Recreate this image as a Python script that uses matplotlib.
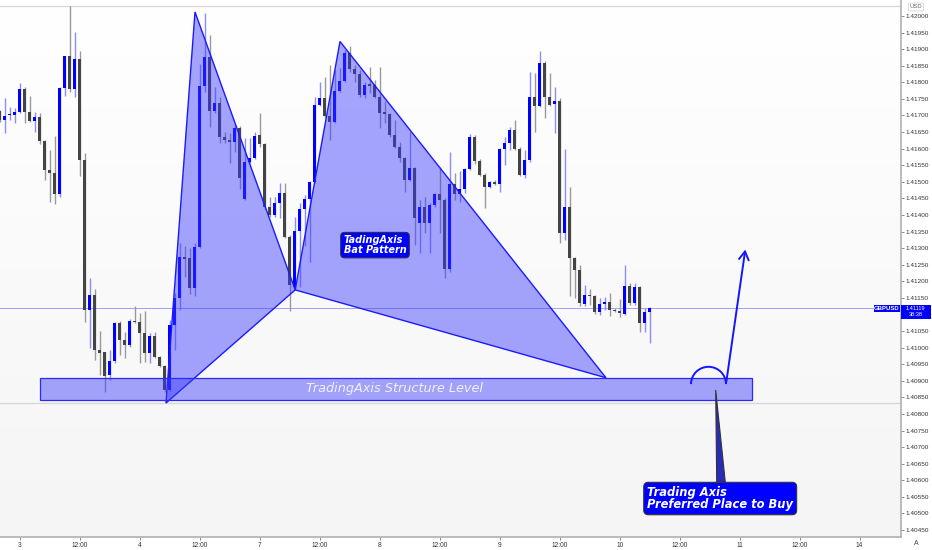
import matplotlib
matplotlib.use('Agg')
import matplotlib.pyplot as plt
import numpy as np
from matplotlib.patches import Rectangle, Polygon, Arc
from matplotlib.colors import LinearSegmentedColormap

# ---------------- data (GBPUSD hourly candles) ----------------
first_index = -1
opens = [1.41712, 1.41685, 1.41700, 1.41702, 1.41710, 1.41780, 1.41709, 1.41684, 1.41695, 1.41624,
         1.41536, 1.41526, 1.41463, 1.41784, 1.41880, 1.41779, 1.41870, 1.41566, 1.41114, 1.41159,
         1.40993, 1.40986, 1.40916, 1.40960, 1.41073, 1.41023, 1.41008, 1.41081, 1.41078, 1.41043,
         1.40985, 1.41035, 1.40971, 1.40945, 1.40872, 1.41068, 1.41151, 1.41272, 1.41269, 1.41179,
         1.41302, 1.41789, 1.41875, 1.41712, 1.41737, 1.41636, 1.41626, 1.41619, 1.41663, 1.41447,
         1.41559, 1.41573, 1.41640, 1.41613, 1.41425, 1.41400, 1.41435, 1.41465, 1.41332, 1.41184,
         1.41352, 1.41417, 1.41448, 1.41498, 1.41732, 1.41752, 1.41697, 1.41681, 1.41775, 1.41805,
         1.41888, 1.41839, 1.41825, 1.41762, 1.41794, 1.41792, 1.41757, 1.41709, 1.41705, 1.41641,
         1.41604, 1.41571, 1.41504, 1.41543, 1.41377, 1.41425, 1.41377, 1.41430, 1.41463, 1.41445,
         1.41236, 1.41494, 1.41463, 1.41478, 1.41539, 1.41636, 1.41564, 1.41519, 1.41483, 1.41498,
         1.41494, 1.41598, 1.41618, 1.41656, 1.41599, 1.41521, 1.41566, 1.41757, 1.41727, 1.41857,
         1.41755, 1.41734, 1.41742, 1.41345, 1.41425, 1.41269, 1.41234, 1.41132, 1.41159, 1.41156,
         1.41107, 1.41132, 1.41139, 1.41114, 1.41110, 1.41101, 1.41186, 1.41134, 1.41182, 1.41075,
         1.41108]
highs = [1.41717, 1.41752, 1.41725, 1.41722, 1.41799, 1.41785, 1.41760, 1.41709, 1.41707, 1.41626,
         1.41596, 1.41638, 1.41787, 1.41880, 1.42030, 1.41951, 1.41893, 1.41588, 1.41209, 1.41176,
         1.41050, 1.40988, 1.40993, 1.41078, 1.41081, 1.41048, 1.41085, 1.41126, 1.41104, 1.41109,
         1.41043, 1.41048, 1.40975, 1.40948, 1.41083, 1.41164, 1.41315, 1.41305, 1.41300, 1.41315,
         1.41854, 1.42008, 1.41941, 1.41787, 1.41757, 1.41651, 1.41646, 1.41671, 1.41668, 1.41633,
         1.41631, 1.41651, 1.41707, 1.41616, 1.41455, 1.41455, 1.41496, 1.41496, 1.41340, 1.41395,
         1.41435, 1.41460, 1.41501, 1.41757, 1.41802, 1.41817, 1.41852, 1.41837, 1.41842, 1.41898,
         1.41908, 1.41852, 1.41837, 1.41802, 1.41847, 1.41807, 1.41847, 1.41742, 1.41707, 1.41687,
         1.41621, 1.41576, 1.41651, 1.41546, 1.41445, 1.41455, 1.41435, 1.41467, 1.41546, 1.41450,
         1.41591, 1.41526, 1.41531, 1.41541, 1.41644, 1.41641, 1.41568, 1.41526, 1.41501, 1.41506,
         1.41601, 1.41636, 1.41666, 1.41687, 1.41606, 1.41596, 1.41832, 1.41829, 1.41893, 1.41865,
         1.41829, 1.41785, 1.41752, 1.41598, 1.41485, 1.41274, 1.41249, 1.41189, 1.41176, 1.41159,
         1.41149, 1.41154, 1.41164, 1.41119, 1.41146, 1.41249, 1.41194, 1.41196, 1.41186, 1.41119,
         1.41122]
lows = [1.41681, 1.41648, 1.41687, 1.41678, 1.41707, 1.41678, 1.41680, 1.41651, 1.41614, 1.41506,
        1.41440, 1.41433, 1.41455, 1.41760, 1.41772, 1.41757, 1.41516, 1.41078, 1.40998, 1.40963,
        1.40918, 1.40867, 1.40902, 1.40953, 1.40978, 1.40968, 1.41003, 1.41073, 1.40953, 1.40958,
        1.40953, 1.40968, 1.40943, 1.40867, 1.40870, 1.40993, 1.41114, 1.41214, 1.41162, 1.41156,
        1.41300, 1.41772, 1.41664, 1.41707, 1.41616, 1.41616, 1.41556, 1.41591, 1.41477, 1.41445,
        1.41556, 1.41568, 1.41606, 1.41417, 1.41393, 1.41395, 1.41390, 1.41330, 1.41109, 1.41179,
        1.41184, 1.41305, 1.41259, 1.41496, 1.41727, 1.41692, 1.41626, 1.41678, 1.41772, 1.41802,
        1.41832, 1.41802, 1.41757, 1.41752, 1.41767, 1.41752, 1.41661, 1.41676, 1.41636, 1.41601,
        1.41561, 1.41470, 1.41501, 1.41310, 1.41284, 1.41345, 1.41284, 1.41425, 1.41345, 1.41209,
        1.41229, 1.41445, 1.41440, 1.41465, 1.41534, 1.41554, 1.41516, 1.41420, 1.41480, 1.41491,
        1.41470, 1.41551, 1.41596, 1.41596, 1.41518, 1.41511, 1.41561, 1.41651, 1.41725, 1.41692,
        1.41729, 1.41648, 1.41315, 1.41323, 1.41156, 1.41149, 1.41124, 1.41124, 1.41129, 1.41101,
        1.41098, 1.41114, 1.41095, 1.41106, 1.41093, 1.41098, 1.41129, 1.41129, 1.41048, 1.41048,
        1.41013]
closes = [1.41685, 1.41699, 1.41702, 1.41710, 1.41780, 1.41709, 1.41684, 1.41695, 1.41624, 1.41534,
          1.41526, 1.41463, 1.41784, 1.41880, 1.41779, 1.41870, 1.41566, 1.41114, 1.41159, 1.40993,
          1.40985, 1.40915, 1.40960, 1.41073, 1.41023, 1.41008, 1.41081, 1.41078, 1.41043, 1.40985,
          1.41035, 1.40971, 1.40945, 1.40872, 1.41068, 1.41151, 1.41272, 1.41268, 1.41179, 1.41302,
          1.41789, 1.41875, 1.41712, 1.41737, 1.41636, 1.41626, 1.41619, 1.41663, 1.41511, 1.41559,
          1.41573, 1.41638, 1.41613, 1.41425, 1.41400, 1.41435, 1.41465, 1.41332, 1.41189, 1.41352,
          1.41417, 1.41448, 1.41498, 1.41732, 1.41752, 1.41697, 1.41681, 1.41775, 1.41805, 1.41888,
          1.41839, 1.41825, 1.41762, 1.41792, 1.41790, 1.41757, 1.41707, 1.41705, 1.41641, 1.41604,
          1.41571, 1.41504, 1.41543, 1.41390, 1.41425, 1.41377, 1.41430, 1.41463, 1.41445, 1.41236,
          1.41494, 1.41463, 1.41478, 1.41539, 1.41636, 1.41564, 1.41519, 1.41483, 1.41498, 1.41494,
          1.41598, 1.41618, 1.41656, 1.41599, 1.41521, 1.41566, 1.41757, 1.41727, 1.41857, 1.41755,
          1.41732, 1.41742, 1.41345, 1.41425, 1.41269, 1.41234, 1.41134, 1.41159, 1.41156, 1.41107,
          1.41132, 1.41139, 1.41114, 1.41110, 1.41104, 1.41186, 1.41134, 1.41182, 1.41075, 1.41108,
          1.41119]

time_tick_pos = [3, 15, 27, 39, 51, 63, 75, 87, 99, 111, 123, 135, 147, 159, 171]
time_tick_labels = ['3', '12:00', '4', '12:00', '7', '12:00', '8', '12:00', '9', '12:00',
                    '10', '12:00', '11', '12:00', '14']
# 1.41100 is hidden behind the last-price tag in the reference
price_ticks = [1.40450, 1.40500, 1.40550, 1.40600, 1.40650, 1.40700, 1.40750, 1.40800,
               1.40850, 1.40900, 1.40950, 1.41000, 1.41050, 1.41150, 1.41200,
               1.41250, 1.41300, 1.41350, 1.41400, 1.41450, 1.41500, 1.41550, 1.41600,
               1.41650, 1.41700, 1.41750, 1.41800, 1.41850, 1.41900, 1.41950, 1.42000]
last_price = 1.41119
countdown = '38:38'
symbol = 'GBPUSD'

# Bat pattern points X, A, B, C, D (bar index, price)
pattern_x = [32.26, 38.06, 58.1, 67.06, 120.26]
pattern_y = [1.40833, 1.42012, 1.41174, 1.41923, 1.40909]
# Structure level zone
zone_x = [6.96, 149.36]
zone_y = [1.40842, 1.40909]
level_lines = [1.42030, 1.40833]

# ---------------- figure ----------------
W, H = 932, 550
fig = plt.figure(figsize=(W / 100, H / 100), dpi=100, facecolor='white')
ax = fig.add_axes([0, 13 / H, 901 / W, 537 / H])
xlim = (-0.94, 179.26)
ylim = (1.40429, 1.42048)
ax.set_xlim(*xlim)
ax.set_ylim(*ylim)

grad = LinearSegmentedColormap.from_list('bg', ['#ffffff', '#f5f5f5'])
ax.imshow(np.linspace(0, 1, 200).reshape(-1, 1), extent=[xlim[0], xlim[1], ylim[0], ylim[1]],
          aspect='auto', cmap=grad, zorder=0, origin='upper')

for lv in level_lines:
    ax.axhline(lv, color='#d6d6d6', lw=0.9, zorder=1)
ax.axhline(last_price, color='#8a8aff', lw=0.7, alpha=0.8, zorder=1)

# candles
o = np.array(opens); h = np.array(highs); l = np.array(lows); c = np.array(closes)
xs = np.arange(len(o)) + first_index
up = c >= o
ax.vlines(xs[up], l[up], h[up], color='#8c8cff', lw=1.0, zorder=2)
ax.vlines(xs[~up], l[~up], h[~up], color='#9a9a9a', lw=1.0, zorder=2)
body_lo = np.minimum(o, c)
body_h = np.maximum(np.abs(c - o), 0.00003)
ax.bar(xs[up], body_h[up], bottom=body_lo[up], width=0.62, color='#0000ff', lw=0, zorder=3)
ax.bar(xs[~up], body_h[~up], bottom=body_lo[~up], width=0.62, color='#444444', lw=0, zorder=3)

# pattern triangles
fillc = (0.22, 0.22, 1.0, 0.45)
px, py = pattern_x, pattern_y
tri1 = Polygon([(px[0], py[0]), (px[1], py[1]), (px[2], py[2])], closed=True,
               facecolor=fillc, edgecolor='#1a1aff', lw=1.0, zorder=4)
tri2 = Polygon([(px[2], py[2]), (px[3], py[3]), (px[4], py[4])], closed=True,
               facecolor=fillc, edgecolor='#1a1aff', lw=1.0, zorder=4)
ax.add_patch(tri1)
ax.add_patch(tri2)

# structure zone
ax.add_patch(Rectangle((zone_x[0], zone_y[0]), zone_x[1] - zone_x[0], zone_y[1] - zone_y[0],
                       facecolor=fillc, edgecolor='#2a2aff', lw=0.9, zorder=4))
ax.text((zone_x[0] + zone_x[1]) / 2 - 0.3, (zone_y[0] + zone_y[1]) / 2, 'TradingAxis Structure Level',
        color='#f0f0ff', fontsize=9.3, style='italic', ha='center', va='center', zorder=6)

# bat pattern label
ax.text(74.06, 1.41309, 'TadingAxis\nBat Pattern', color='white', fontsize=7, fontweight='bold',
        style='italic', ha='center', va='center', multialignment='left', linespacing=0.95, zorder=7,
        bbox=dict(boxstyle='round,pad=0.3,rounding_size=0.4', fc='#0000ff', ec='#2b2b55', lw=0.8))

# arc + arrow
arc = Arc((140.76, 1.40890), 7.0, 0.001043, theta1=0, theta2=180, color='#1515ff', lw=1.4, zorder=6)
ax.add_patch(arc)
ax.annotate('', xy=(148.2, 1.41304), xytext=(144.26, 1.40890),
            arrowprops=dict(arrowstyle='->,head_length=0.6,head_width=0.35', color='#1515ff', lw=1.4),
            zorder=6)

# callout pointer and box
ax.add_patch(Polygon([(142.2, 1.40872), (142.4, 1.40594), (144.12, 1.40594)], closed=True,
                     facecolor='#2a2ab8', edgecolor='#333333', lw=0.8, zorder=6))
ax.text(128.5, 1.40545, 'Trading Axis\nPreferred Place to Buy', color='white', fontsize=8.3,
        fontweight='bold', style='italic', ha='left', va='center', linespacing=0.95, zorder=7,
        bbox=dict(boxstyle='round,pad=0.3,rounding_size=0.4', fc='#0000ff', ec='#333333', lw=0.8))

# axes styling
for s in ['top', 'left']:
    ax.spines[s].set_visible(False)
ax.spines['right'].set_color('#b0b0b0')
ax.spines['right'].set_linewidth(1.2)
ax.spines['bottom'].set_color('#b0b0b0')
ax.spines['bottom'].set_linewidth(1.2)

ax.yaxis.tick_right()
ax.set_yticks(price_ticks)
ax.set_yticklabels([f'{v:.5f}' for v in price_ticks], fontfamily='Liberation Sans', fontsize=4.6,
                   color='#333333')
ax.tick_params(axis='y', direction='out', length=2, width=0.6, pad=1.2, color='#777777')
ax.set_xticks(time_tick_pos)
ax.set_xticklabels(time_tick_labels, fontfamily='Liberation Sans', fontsize=4.8, color='#333333')
ax.tick_params(axis='x', direction='out', length=2, width=0.6, pad=1.5, color='#777777')


def fx(p):
    return p / W


def fy(p):
    return 1 - p / H


# last price tag
fig.add_artist(Rectangle((fx(900.7), fy(319)), fx(931) - fx(900.7), fy(304.5) - fy(319),
                         transform=fig.transFigure, facecolor='#0000ff', edgecolor='none'))
fig.text(fx(915.8), fy(311.6), f'{last_price:.5f}\n{countdown}', color='white', fontsize=4.0,
         fontfamily='Liberation Sans', ha='center', va='center', linespacing=1.05)
fig.add_artist(Rectangle((fx(874), fy(311.5)), fx(900) - fx(874), fy(305) - fy(311.5),
                         transform=fig.transFigure, facecolor='#0000ff', edgecolor='none'))
fig.text(fx(887), fy(308.3), symbol, color='white', fontsize=4.3, fontweight='bold',
         fontfamily='Liberation Sans', ha='center', va='center')

fig.text(fx(916), fy(7), 'USD', color='#666666', fontsize=4.2, fontfamily='Liberation Sans',
         ha='center', va='center',
         bbox=dict(boxstyle='round,pad=0.25', fc='white', ec='#cccccc', lw=0.5))
fig.text(fx(916), fy(543.5), 'A', color='#444444', fontsize=5, fontfamily='Liberation Sans',
         ha='center', va='center')

fig.savefig('out.png', dpi=100, facecolor='white')
